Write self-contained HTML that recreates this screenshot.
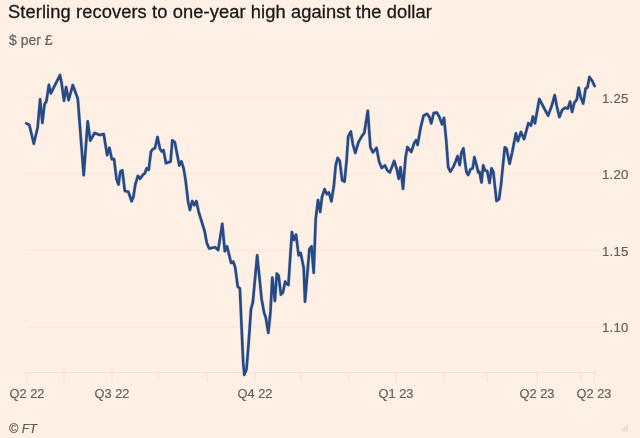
<!DOCTYPE html>
<html><head><meta charset="utf-8">
<style>
html,body{margin:0;padding:0;}
body{width:640px;height:438px;background:#fef0e4;overflow:hidden;position:relative;font-family:"Liberation Sans",sans-serif;}
.t{position:absolute;white-space:nowrap;will-change:transform;}
#title{left:8px;top:1px;font-size:18.3px;letter-spacing:0.1px;color:#1a1817;line-height:22px;-webkit-text-stroke:0.3px #1a1817;}
#sub{left:9px;top:32px;font-size:14px;color:#66605b;-webkit-text-stroke:0.2px #66605b;line-height:16px;}
#src{left:9px;top:422px;font-size:12.4px;letter-spacing:0.05px;color:#605954;-webkit-text-stroke:0.2px #605954;font-style:italic;line-height:15px;}
.yl{font-size:13.2px;letter-spacing:0.2px;color:#66605b;-webkit-text-stroke:0.2px #66605b;line-height:15px;}
.xl{font-size:12.8px;color:#66605b;-webkit-text-stroke:0.2px #66605b;line-height:15px;width:80px;text-align:center;}
svg{position:absolute;left:0;top:0;}
</style></head><body>
<svg width="640" height="438" viewBox="0 0 640 438">
<line x1="26" x2="600" y1="97.6" y2="97.6" stroke="#f7e8dc" stroke-width="1"/>
<line x1="26" x2="600" y1="174.0" y2="174.0" stroke="#f7e8dc" stroke-width="1"/>
<line x1="26" x2="600" y1="250.7" y2="250.7" stroke="#f7e8dc" stroke-width="1"/>
<line x1="26" x2="600" y1="327.0" y2="327.0" stroke="#f7e8dc" stroke-width="1"/>
<line x1="24.5" x2="597.5" y1="372.5" y2="372.5" stroke="#efe2d7" stroke-width="1"/>
<line x1="27" x2="27" y1="372" y2="383" stroke="#efe2d7" stroke-width="1"/>
<line x1="112" x2="112" y1="372" y2="383" stroke="#efe2d7" stroke-width="1"/>
<line x1="255" x2="255" y1="372" y2="383" stroke="#efe2d7" stroke-width="1"/>
<line x1="396" x2="396" y1="372" y2="383" stroke="#efe2d7" stroke-width="1"/>
<line x1="537.5" x2="537.5" y1="372" y2="383" stroke="#efe2d7" stroke-width="1"/>
<line x1="594" x2="594" y1="372" y2="383" stroke="#efe2d7" stroke-width="1"/>
<line x1="64" x2="64" y1="372" y2="382" stroke="#efe2d7" stroke-width="1"/>
<line x1="158" x2="158" y1="372" y2="382" stroke="#efe2d7" stroke-width="1"/>
<line x1="207.5" x2="207.5" y1="372" y2="382" stroke="#efe2d7" stroke-width="1"/>
<line x1="301" x2="301" y1="372" y2="382" stroke="#efe2d7" stroke-width="1"/>
<line x1="348.5" x2="348.5" y1="372" y2="382" stroke="#efe2d7" stroke-width="1"/>
<line x1="444" x2="444" y1="372" y2="382" stroke="#efe2d7" stroke-width="1"/>
<line x1="487.5" x2="487.5" y1="372" y2="382" stroke="#efe2d7" stroke-width="1"/>
<line x1="581" x2="581" y1="372" y2="382" stroke="#efe2d7" stroke-width="1"/>
<path d="M26.3,123.3 L29.3,124.8 L33.8,143.7 L37.6,127.8 L40.1,99.4 L42.4,122.9 L44.5,104.4 L46.4,101.3 L48.9,84.9 L50.8,93.4 L60.0,75.1 L61.5,82.6 L64.0,100.7 L66.1,87.1 L68.6,100.1 L72.8,85.0 L77.8,98.8 L83.7,175.1 L87.7,121.3 L90.3,140.6 L94.6,133.0 L99.8,135.0 L103.7,134.0 L107.2,155.2 L109.4,147.8 L111.9,159.3 L114.1,159.1 L116.5,179.1 L118.5,184.5 L120.3,171.6 L122.3,170.3 L124.8,190.9 L128.3,191.7 L131.6,201.3 L133.4,196.7 L135.4,184.1 L137.9,175.9 L140.1,178.8 L142.9,174.8 L144.9,173.3 L146.7,168.3 L148.7,169.8 L151.0,151.5 L153.0,148.9 L155.0,148.2 L157.5,137.0 L160.0,148.9 L161.8,151.5 L163.5,150.2 L166.0,163.3 L170.6,161.5 L172.3,140.2 L174.8,142.2 L179.3,165.4 L181.4,161.4 L183.6,168.3 L185.6,180.4 L188.1,201.7 L189.9,210.0 L192.2,201.1 L194.4,205.1 L196.4,201.1 L198.6,211.6 L204.7,231.5 L206.8,243.0 L209.2,248.6 L215.2,247.3 L218.2,250.0 L222.3,223.8 L224.8,251.2 L227.0,246.4 L231.1,262.9 L233.3,261.7 L235.3,267.9 L237.7,286.5 L239.9,288.5 L241.5,325.3 L243.2,362.9 L244.3,374.9 L246.5,369.2 L249.0,337.8 L251.0,308.9 L252.8,302.6 L257.2,255.4 L261.6,298.9 L264.1,312.7 L265.8,317.7 L268.3,332.9 L270.4,312.7 L272.3,277.5 L274.9,301.0 L276.8,273.5 L278.6,275.5 L280.9,294.6 L282.9,292.6 L285.2,281.6 L286.8,284.0 L288.4,285.0 L291.9,232.1 L293.9,239.9 L296.1,234.6 L298.6,255.4 L300.7,252.9 L303.7,267.9 L305.0,301.7 L309.4,249.1 L311.5,246.4 L313.7,272.6 L315.7,218.9 L318.0,200.1 L320.2,211.9 L322.0,197.0 L324.6,189.2 L326.9,194.1 L328.9,192.5 L331.4,201.4 L333.9,185.5 L335.7,165.4 L337.7,157.9 L339.7,160.8 L342.2,180.4 L344.5,181.7 L346.5,161.6 L348.2,136.5 L350.8,131.5 L352.8,144.0 L355.3,152.9 L358.3,142.7 L361.6,136.5 L364.3,132.7 L367.8,110.7 L370.4,147.3 L372.9,152.4 L376.6,147.9 L379.1,161.6 L381.7,167.9 L384.9,165.4 L387.4,170.4 L389.9,172.4 L394.2,160.9 L396.7,169.1 L398.7,178.8 L400.5,167.2 L403.0,188.8 L405.5,157.8 L407.4,147.1 L411.3,151.9 L414.3,142.7 L416.1,140.2 L417.6,144.9 L420.6,127.7 L423.6,115.6 L426.9,113.8 L429.4,117.1 L431.2,123.5 L433.7,113.1 L436.9,112.6 L439.4,117.1 L442.0,124.4 L444.0,117.9 L446.2,140.2 L448.2,167.2 L450.4,171.6 L453.5,166.6 L455.7,161.2 L457.5,156.1 L459.7,165.1 L461.4,152.8 L463.4,148.3 L465.1,162.8 L466.4,171.6 L468.1,175.0 L470.7,169.1 L472.7,168.3 L474.4,157.1 L476.9,166.6 L478.2,172.4 L479.4,171.6 L481.5,182.5 L483.2,165.4 L485.2,170.4 L487.2,171.1 L489.5,183.0 L491.5,168.4 L493.3,171.6 L494.8,185.4 L496.5,201.0 L499.0,199.2 L501.1,184.2 L502.8,166.6 L504.8,147.2 L506.6,149.0 L509.6,163.7 L512.1,152.8 L515.9,133.3 L517.9,141.1 L520.9,132.0 L524.1,139.1 L528.4,123.2 L530.9,125.7 L532.9,116.6 L535.0,123.3 L539.3,99.0 L541.6,103.4 L548.1,115.6 L551.9,105.3 L554.7,95.2 L556.6,105.3 L559.4,117.1 L562.2,110.0 L565.0,107.8 L567.8,108.5 L570.1,101.6 L572.1,111.9 L574.4,102.5 L576.8,99.7 L578.7,87.7 L580.6,96.9 L583.2,103.6 L585.6,88.4 L587.5,87.5 L589.4,76.9 L592.2,80.9 L594.6,86.0" fill="none" stroke="#264a86" stroke-opacity="0.2" stroke-width="3.6" stroke-linejoin="round" stroke-linecap="round"/>
<path d="M26.3,123.3 L29.3,124.8 L33.8,143.7 L37.6,127.8 L40.1,99.4 L42.4,122.9 L44.5,104.4 L46.4,101.3 L48.9,84.9 L50.8,93.4 L60.0,75.1 L61.5,82.6 L64.0,100.7 L66.1,87.1 L68.6,100.1 L72.8,85.0 L77.8,98.8 L83.7,175.1 L87.7,121.3 L90.3,140.6 L94.6,133.0 L99.8,135.0 L103.7,134.0 L107.2,155.2 L109.4,147.8 L111.9,159.3 L114.1,159.1 L116.5,179.1 L118.5,184.5 L120.3,171.6 L122.3,170.3 L124.8,190.9 L128.3,191.7 L131.6,201.3 L133.4,196.7 L135.4,184.1 L137.9,175.9 L140.1,178.8 L142.9,174.8 L144.9,173.3 L146.7,168.3 L148.7,169.8 L151.0,151.5 L153.0,148.9 L155.0,148.2 L157.5,137.0 L160.0,148.9 L161.8,151.5 L163.5,150.2 L166.0,163.3 L170.6,161.5 L172.3,140.2 L174.8,142.2 L179.3,165.4 L181.4,161.4 L183.6,168.3 L185.6,180.4 L188.1,201.7 L189.9,210.0 L192.2,201.1 L194.4,205.1 L196.4,201.1 L198.6,211.6 L204.7,231.5 L206.8,243.0 L209.2,248.6 L215.2,247.3 L218.2,250.0 L222.3,223.8 L224.8,251.2 L227.0,246.4 L231.1,262.9 L233.3,261.7 L235.3,267.9 L237.7,286.5 L239.9,288.5 L241.5,325.3 L243.2,362.9 L244.3,374.9 L246.5,369.2 L249.0,337.8 L251.0,308.9 L252.8,302.6 L257.2,255.4 L261.6,298.9 L264.1,312.7 L265.8,317.7 L268.3,332.9 L270.4,312.7 L272.3,277.5 L274.9,301.0 L276.8,273.5 L278.6,275.5 L280.9,294.6 L282.9,292.6 L285.2,281.6 L286.8,284.0 L288.4,285.0 L291.9,232.1 L293.9,239.9 L296.1,234.6 L298.6,255.4 L300.7,252.9 L303.7,267.9 L305.0,301.7 L309.4,249.1 L311.5,246.4 L313.7,272.6 L315.7,218.9 L318.0,200.1 L320.2,211.9 L322.0,197.0 L324.6,189.2 L326.9,194.1 L328.9,192.5 L331.4,201.4 L333.9,185.5 L335.7,165.4 L337.7,157.9 L339.7,160.8 L342.2,180.4 L344.5,181.7 L346.5,161.6 L348.2,136.5 L350.8,131.5 L352.8,144.0 L355.3,152.9 L358.3,142.7 L361.6,136.5 L364.3,132.7 L367.8,110.7 L370.4,147.3 L372.9,152.4 L376.6,147.9 L379.1,161.6 L381.7,167.9 L384.9,165.4 L387.4,170.4 L389.9,172.4 L394.2,160.9 L396.7,169.1 L398.7,178.8 L400.5,167.2 L403.0,188.8 L405.5,157.8 L407.4,147.1 L411.3,151.9 L414.3,142.7 L416.1,140.2 L417.6,144.9 L420.6,127.7 L423.6,115.6 L426.9,113.8 L429.4,117.1 L431.2,123.5 L433.7,113.1 L436.9,112.6 L439.4,117.1 L442.0,124.4 L444.0,117.9 L446.2,140.2 L448.2,167.2 L450.4,171.6 L453.5,166.6 L455.7,161.2 L457.5,156.1 L459.7,165.1 L461.4,152.8 L463.4,148.3 L465.1,162.8 L466.4,171.6 L468.1,175.0 L470.7,169.1 L472.7,168.3 L474.4,157.1 L476.9,166.6 L478.2,172.4 L479.4,171.6 L481.5,182.5 L483.2,165.4 L485.2,170.4 L487.2,171.1 L489.5,183.0 L491.5,168.4 L493.3,171.6 L494.8,185.4 L496.5,201.0 L499.0,199.2 L501.1,184.2 L502.8,166.6 L504.8,147.2 L506.6,149.0 L509.6,163.7 L512.1,152.8 L515.9,133.3 L517.9,141.1 L520.9,132.0 L524.1,139.1 L528.4,123.2 L530.9,125.7 L532.9,116.6 L535.0,123.3 L539.3,99.0 L541.6,103.4 L548.1,115.6 L551.9,105.3 L554.7,95.2 L556.6,105.3 L559.4,117.1 L562.2,110.0 L565.0,107.8 L567.8,108.5 L570.1,101.6 L572.1,111.9 L574.4,102.5 L576.8,99.7 L578.7,87.7 L580.6,96.9 L583.2,103.6 L585.6,88.4 L587.5,87.5 L589.4,76.9 L592.2,80.9 L594.6,86.0" fill="none" stroke="#264a86" stroke-width="2.6" stroke-linejoin="round" stroke-linecap="round"/>
<path d="M620.5 431.6 L628 431.6 L628 423.4 Z" fill="#e9ddd1"/>
</svg>
<div class="t" id="title">Sterling recovers to one-year high against the dollar</div>
<div class="t" id="sub">$ per £</div>
<div class="t" id="src">© FT</div>
<div class="t yl" style="left:602px;top:91px">1.25</div>
<div class="t yl" style="left:602px;top:167px">1.20</div>
<div class="t yl" style="left:602px;top:244px">1.15</div>
<div class="t yl" style="left:602px;top:320px">1.10</div>
<div class="t xl" style="left:-13px;top:386px">Q2 22</div>
<div class="t xl" style="left:72px;top:386px">Q3 22</div>
<div class="t xl" style="left:215px;top:386px">Q4 22</div>
<div class="t xl" style="left:356px;top:386px">Q1 23</div>
<div class="t xl" style="left:497px;top:386px">Q2 23</div>
<div class="t xl" style="left:554px;top:386px">Q2 23</div>
</body></html>
